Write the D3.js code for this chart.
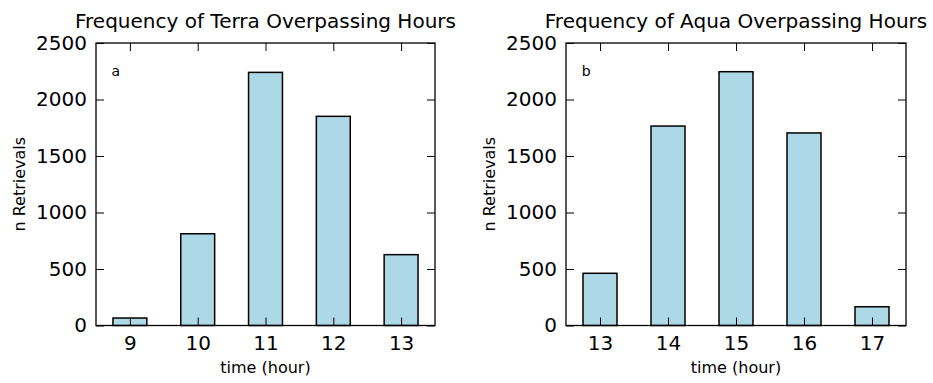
<!DOCTYPE html>
<html><head><meta charset="utf-8">
<script src="https://cdn.jsdelivr.net/npm/d3@7"></script>
<style>body{margin:0;background:#fff}svg{display:block}text{font-family:"DejaVu Sans",sans-serif;fill:#000}</style>
</head><body>
<svg id="c" width="933" height="383"></svg>
<script>
const terraHours = ["9","10","11","12","13"];
const terraCounts = [66, 812, 2240, 1851, 627];
const aquaHours = ["13","14","15","16","17"];
const aquaCounts = [462, 1765, 2246, 1704, 166];
const yTicks = [0, 500, 1000, 1500, 2000, 2500];
const titles = ["Frequency of Terra Overpassing Hours", "Frequency of Aqua Overpassing Hours"];
const panelLetters = ["a", "b"];
const xLabel = "time (hour)";
const yLabel = "n Retrievals";

const svg = d3.select("#c");
const panels = [
  {cats: terraHours, vals: terraCounts, left: 96, right: 435},
  {cats: aquaHours, vals: aquaCounts, left: 566, right: 906}
];
const plotTop = 43, plotBottom = 325.5;

panels.forEach((p, i) => {
  const g = svg.append("g");
  const x = d3.scaleLinear().domain([-0.5, 4.5]).range([p.left, p.right]);
  const y = d3.scaleLinear().domain([0, 2500]).range([plotBottom, plotTop]);
  g.selectAll("rect.bar").data(p.vals).join("rect")
    .attr("x", (d, j) => x(j - 0.25)).attr("width", x(0.5) - x(0))
    .attr("y", d => y(d)).attr("height", d => y(0) - y(d))
    .attr("fill", "#add8e6").attr("stroke", "#000").attr("stroke-width", 1.5);
  const idx = d3.range(p.cats.length);
  const xb = d3.axisBottom(x).tickValues(idx).tickFormat(j => p.cats[j]).tickSizeInner(-8).tickSizeOuter(0).tickPadding(10);
  const xt = d3.axisTop(x).tickValues(idx).tickFormat("").tickSizeInner(-8).tickSizeOuter(0);
  const yl = d3.axisLeft(y).tickValues(yTicks).tickFormat(d3.format("d")).tickSizeInner(-8).tickSizeOuter(0).tickPadding(9);
  const yr = d3.axisRight(y).tickValues(yTicks).tickFormat("").tickSizeInner(-8).tickSizeOuter(0);
  const ax = [
    g.append("g").attr("transform", `translate(0,${plotBottom})`).call(xb),
    g.append("g").attr("transform", `translate(0,${plotTop})`).call(xt),
    g.append("g").attr("transform", `translate(${p.left},0)`).call(yl),
    g.append("g").attr("transform", `translate(${p.right},0)`).call(yr)
  ];
  ax.forEach(a => {
    a.select(".domain").remove();
    a.selectAll("line").attr("stroke", "#000").attr("stroke-width", 1);
    a.selectAll("text").attr("font-family", "DejaVu Sans").attr("font-size", 20).attr("fill", "#000");
  });
  g.append("rect").attr("x", p.left).attr("y", plotTop).attr("width", p.right - p.left).attr("height", plotBottom - plotTop)
    .attr("fill", "none").attr("stroke", "#000").attr("stroke-width", 1.3);
  g.append("text").attr("x", (p.left + p.right) / 2).attr("y", 28).attr("text-anchor", "middle")
    .attr("font-size", 20).text(titles[i]);
  g.append("text").attr("x", (p.left + p.right) / 2).attr("y", 373).attr("text-anchor", "middle")
    .attr("font-size", 16).text(xLabel);
  g.append("text").attr("transform", `translate(${p.left - 71},${(plotTop + plotBottom) / 2}) rotate(-90)`)
    .attr("text-anchor", "middle").attr("font-size", 16).text(yLabel);
  g.append("text").attr("x", x(-0.27)).attr("y", 76).attr("font-size", 14).text(panelLetters[i]);
});
</script>
</body></html>
